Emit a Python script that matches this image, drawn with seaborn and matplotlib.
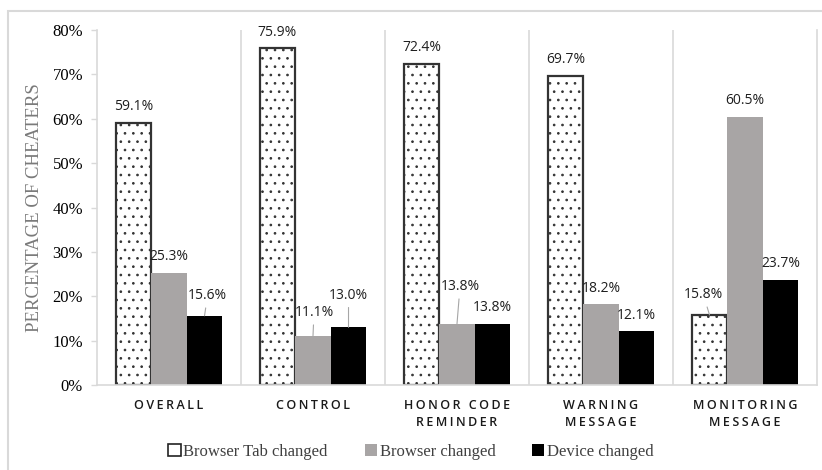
import pandas as pd
import matplotlib.pyplot as plt
import matplotlib.patches as mpatches
import seaborn as sns

# ----------------------------
# DATA
# ----------------------------
grupos = ['OVERALL', 'CONTROL', 'HONOR CODE\nREMINDER', 'WARNING\nMESSAGE', 'MONITORING\nMESSAGE']
series = ['Browser Tab changed', 'Browser changed', 'Device changed']
tab_changed = [59.1, 75.9, 72.4, 69.7, 15.8]
browser_changed = [25.3, 11.1, 13.8, 18.2, 60.5]
device_changed = [15.6, 13.0, 13.8, 12.1, 23.7]

df = pd.DataFrame({
    'grupo': grupos * 3,
    'serie': [s for s in series for _ in grupos],
    'valor': tab_changed + browser_changed + device_changed,
})

# ----------------------------
# STYLE
# ----------------------------
sns.set_theme(style='white')
plt.rcParams['hatch.linewidth'] = 0.7
plt.rcParams['hatch.color'] = '#222222'

cores = ['white', '#a8a5a5', 'black']
cinza = '#d9d9d9'

fig = plt.figure(figsize=(8.22, 4.70), dpi=100)
ax = fig.add_axes([97 / 822, 1 - 385 / 470, 720 / 822, 355 / 470])

sns.barplot(data=df, x='grupo', y='valor', hue='serie', palette=cores,
            width=0.74, ax=ax, legend=False, saturation=1)

# pattern + edges
for i, cont in enumerate(ax.containers):
    for p in cont.patches:
        if i == 0:
            p.set_hatch('..')
            p.set_edgecolor('#333333')
            p.set_linewidth(1.6)
        else:
            p.set_edgecolor('none')

ax.set_ylim(0, 80)
ax.set_xlim(-0.5, 4.5)
ax.set_yticks(range(0, 81, 10))
ax.set_yticklabels([f'{v}%' for v in range(0, 81, 10)],
                   family='Liberation Serif', fontsize=12, color='black')
ax.tick_params(axis='y', length=4, color=cinza, width=1, left=True, pad=6)
ax.tick_params(axis='x', length=0, pad=10)

espaco = '\u2009'
rotulos = ['\n'.join(espaco.join(linha) for linha in g.split('\n')) for g in grupos]
ax.set_xticks(range(len(grupos)))
ax.set_xticklabels(rotulos, family='Open Sans', fontweight='semibold',
                   fontsize=9, color='#1a1a1a', linespacing=1.45)
ax.set_xlabel('')
ax.set_ylabel('PERCENTAGE OF CHEATERS', family='Liberation Serif',
              fontsize=13.5, color='#7a7a7a', labelpad=7)

ax.spines['top'].set_visible(False)
for lado in ['left', 'right', 'bottom']:
    ax.spines[lado].set_color(cinza)
    ax.spines[lado].set_linewidth(1.2)
for xs in [0.5, 1.5, 2.5, 3.5]:
    ax.axvline(xs, color=cinza, lw=1.2, zorder=0)

# ----------------------------
# DATA LABELS
# ----------------------------
# (serie, grupo) -> offset in pixels (dx, dy) for labels with leader lines
desvio = {
    (2, 0): (3, 20),
    (1, 1): (1, 23),
    (2, 1): (0, 32),
    (1, 2): (3, 37),
    (0, 4): (-6, 20),
}
px = 0.72
for i, cont in enumerate(ax.containers):
    for j, p in enumerate(cont.patches):
        v = p.get_height()
        xc = p.get_x() + p.get_width() / 2
        if (i, j) in desvio:
            dx, dy = desvio[(i, j)]
            ax.annotate(f'{v:.1f}%', xy=(xc, v), xytext=(dx * px, dy * px),
                        textcoords='offset points', ha='center', va='center',
                        family='Open Sans', fontsize=10, color='#1f1f1f',
                        arrowprops=dict(arrowstyle='-', color='#a6a6a6', lw=0.8,
                                        shrinkA=1, shrinkB=0))
        else:
            ax.annotate(f'{v:.1f}%', xy=(xc, v), xytext=(0, 16 * px),
                        textcoords='offset points', ha='center', va='center',
                        family='Open Sans', fontsize=10, color='#1f1f1f')

# ----------------------------
# LEGEND + FRAME
# ----------------------------
alcas = [
    mpatches.Patch(facecolor='white', edgecolor='#222222', lw=1.2, label=series[0]),
    mpatches.Patch(facecolor=cores[1], edgecolor='none', label=series[1]),
    mpatches.Patch(facecolor='black', edgecolor='none', label=series[2]),
]
fig.legend(handles=alcas, loc='center', bbox_to_anchor=(0.5, 1 - 452 / 470), ncol=3,
           frameon=False, handlelength=0.75, handleheight=0.75, handletextpad=0.15,
           columnspacing=2.2, prop={'family': 'Liberation Serif', 'size': 12},
           labelcolor='#404040')

fig.patches.append(mpatches.Rectangle((8 / 822, -0.05), 1.0, 1 - 11 / 470 + 0.05,
                                      transform=fig.transFigure, fill=False,
                                      edgecolor=cinza, lw=1.5, clip_on=False))

fig.savefig('out.png', dpi=100)
